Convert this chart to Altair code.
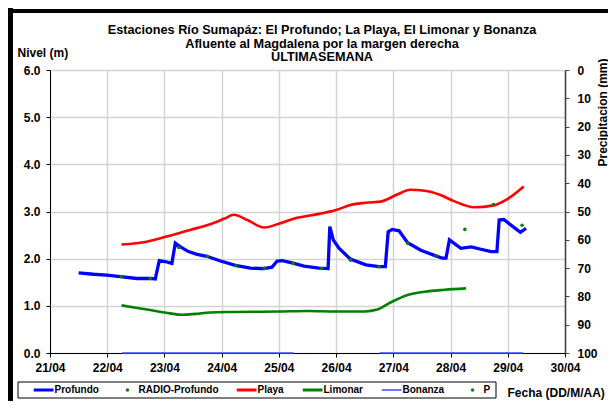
import altair as alt
import pandas as pd

BASE = pd.Timestamp("2014-04-21")

# ---- legend / series definitions
series = ["Profundo", "RADIO-Profundo", "Playa", "Limonar", "Bonanza", "P"]
series_colors = ["#0000ff", "#008000", "#ff0000", "#008000", "#3c46ff", "#008000"]
BAR = "M-1,-0.15L1,-0.15L1,0.15L-1,0.15Z"
THIN = "M-1,-0.07L1,-0.07L1,0.07L-1,0.07Z"
DOT = "M-0.18,0L-0.13,-0.13L0,-0.18L0.13,-0.13L0.18,0L0.13,0.13L0,0.18L-0.13,0.13Z"
series_shapes = [BAR, DOT, BAR, BAR, THIN, DOT]

title_lines = [
    "Estaciones Río Sumapáz: El Profundo; La Playa, El Limonar y Bonanza",
    "Afluente al Magdalena por la margen derecha",
    "ULTIMASEMANA",
]

# ---- data (day offsets from 21/04 00:00, level in m)
prof_day = [0.50, 0.76, 0.99, 1.23, 1.52, 1.74, 1.84, 1.91, 2.01, 2.13, 2.19, 2.28, 2.42,
            2.57, 2.74, 2.98, 3.24, 3.50, 3.74, 3.88, 3.97, 4.06, 4.23, 4.44, 4.70, 4.86,
            4.89, 4.95, 5.05, 5.25, 5.52, 5.75, 5.86, 5.91, 5.98, 6.10, 6.25, 6.48, 6.74,
            6.86, 6.92, 6.98, 7.18, 7.36, 7.53, 7.71, 7.81, 7.85, 7.93, 8.09, 8.22, 8.32]
prof_val = [1.70, 1.67, 1.65, 1.62, 1.58, 1.58, 1.57, 1.96, 1.94, 1.90, 2.33, 2.25, 2.15,
            2.09, 2.05, 1.95, 1.86, 1.80, 1.79, 1.82, 1.95, 1.96, 1.91, 1.84, 1.80, 1.79,
            2.68, 2.40, 2.22, 1.99, 1.87, 1.83, 1.83, 2.57, 2.62, 2.59, 2.34, 2.18, 2.06,
            2.01, 2.01, 2.40, 2.22, 2.25, 2.20, 2.15, 2.15, 2.82, 2.83, 2.68, 2.56, 2.64]

radio_day = [1.25, 1.75, 2.25, 2.75, 3.25, 3.75, 4.25, 4.75, 5.25, 5.75, 6.25, 6.75, 7.25, 7.75, 8.25]
radio_val = [1.62, 1.58, 2.24, 2.05, 1.85, 1.80, 1.90, 1.79, 1.97, 1.83, 2.33, 2.06, 2.62, 3.15, 2.71]

playa_day = [1.25, 1.69, 2.04, 2.45, 2.80, 3.05, 3.21, 3.45, 3.74, 4.00, 4.30, 4.70, 5.00,
             5.25, 5.55, 5.78, 6.05, 6.30, 6.55, 6.80, 7.06, 7.41, 7.75, 8.00, 8.28]
playa_val = [2.30, 2.36, 2.47, 2.61, 2.73, 2.85, 2.93, 2.82, 2.66, 2.74, 2.86, 2.95, 3.03,
             3.14, 3.19, 3.21, 3.35, 3.46, 3.44, 3.36, 3.22, 3.09, 3.13, 3.27, 3.53]

lim_day = [1.25, 1.75, 2.10, 2.30, 2.55, 2.80, 3.20, 4.00, 4.50, 5.00, 5.50, 5.72, 5.95,
           6.25, 6.55, 6.90, 7.27]
lim_val = [1.01, 0.91, 0.84, 0.81, 0.83, 0.86, 0.87, 0.88, 0.89, 0.88, 0.88, 0.92, 1.07,
           1.23, 1.30, 1.34, 1.37]

bon_day = [1.26, 4.26, 5.76, 8.27]
bon_val = [0.0, 0.0, 0.0, 0.0]
bon_seg = [1, 1, 2, 2]

p_day = []
p_mm = []


def to_time(days):
    return BASE + pd.to_timedelta(pd.Series(days, dtype="float64"), unit="D")


df_prof = pd.DataFrame({"t": to_time(prof_day), "v": prof_val})
df_radio = pd.DataFrame({"t": to_time(radio_day), "v": radio_val, "serie": "RADIO-Profundo"})
df_playa = pd.DataFrame({"t": to_time(playa_day), "v": playa_val})
df_lim = pd.DataFrame({"t": to_time(lim_day), "v": lim_val})
df_bon = pd.DataFrame({"t": to_time(bon_day), "v": bon_val, "seg": bon_seg})
df_p = pd.DataFrame({"t": to_time(p_day), "mm": pd.Series(p_mm, dtype="float64")})
one = pd.DataFrame({"k": [0]})

FONT = "Liberation Sans"

X = alt.X(
    "t:T",
    scale=alt.Scale(domain=[alt.DateTime(year=2014, month=4, date=21),
                            alt.DateTime(year=2014, month=4, date=30)]),
    axis=alt.Axis(
        values=[alt.DateTime(year=2014, month=4, date=d) for d in range(21, 31)],
        format="%d/%m", labelAngle=0, labelFlush=False, labelOverlap=False,
        tickSize=4, labelPadding=5, grid=True,
        title="Fecha (DD/M/AA)", titleX=457, titleY=39,
        titleAlign="left", titleBaseline="middle",
    ),
)

Y = alt.Y(
    "v:Q",
    scale=alt.Scale(domain=[0, 6]),
    axis=alt.Axis(
        orient="left", values=[0, 1, 2, 3, 4, 5, 6], format=".1f",
        tickSize=4, labelPadding=6, grid=True,
        title="Nivel (m)", titleAngle=0, titleX=-33, titleY=-18,
        titleAlign="left", titleBaseline="middle",
    ),
)

line_prof = alt.Chart(df_prof).mark_line(strokeWidth=3.3, color=series_colors[0]).encode(x=X, y=Y)
line_playa = alt.Chart(df_playa).mark_line(strokeWidth=2.6, interpolate="monotone",
                                           color=series_colors[2]).encode(x=X, y=Y)
line_lim = alt.Chart(df_lim).mark_line(strokeWidth=2.6, interpolate="monotone",
                                       color=series_colors[3]).encode(x=X, y=Y)
line_bon = alt.Chart(df_bon).mark_line(strokeWidth=1.5, color=series_colors[4]).encode(
    x=X, y=Y, detail="seg:N")

pts = alt.Chart(df_radio).mark_point(filled=True, size=400, strokeWidth=0, opacity=1).encode(
    x=X, y=Y,
    color=alt.Color("serie:N", scale=alt.Scale(domain=series, range=series_colors),
                    legend=alt.Legend(title=None)),
    shape=alt.Shape("serie:N", scale=alt.Scale(domain=series, range=series_shapes),
                    legend=alt.Legend(title=None)),
)

# outer frame of the figure (left and top edges visible)
frame_left = alt.Chart(one).mark_rule(color="black", strokeWidth=5).encode(
    x=alt.value(-39.5), y=alt.value(-62), y2=alt.value(400))
frame_top = alt.Chart(one).mark_rule(color="black", strokeWidth=4).encode(
    x=alt.value(-42), x2=alt.value(700), y=alt.value(-59))

# box around the legend
box_style = dict(color="black", strokeWidth=1)
box_top = alt.Chart(one).mark_rule(**box_style).encode(
    x=alt.value(-32), x2=alt.value(446), y=alt.value(312))
box_bottom = alt.Chart(one).mark_rule(**box_style).encode(
    x=alt.value(-32), x2=alt.value(446), y=alt.value(328))
box_left = alt.Chart(one).mark_rule(**box_style).encode(
    x=alt.value(-32), y=alt.value(312), y2=alt.value(328))
box_right = alt.Chart(one).mark_rule(**box_style).encode(
    x=alt.value(446), y=alt.value(312), y2=alt.value(328))

title_text = alt.Chart(one).mark_text(
    text=title_lines, font=FONT, fontSize=12.7, fontWeight="bold", color="black",
    align="center", baseline="alphabetic", lineHeight=13.5,
).encode(x=alt.value(272), y=alt.value(-36))

inner = alt.layer(frame_left, frame_top, box_top, box_bottom, box_left, box_right,
                  title_text, line_lim, line_playa, line_prof, line_bon, pts)

p_layer = alt.Chart(df_p).mark_point(filled=True, size=10, color="#008000").encode(
    x=X,
    y=alt.Y("mm:Q", scale=alt.Scale(domain=[0, 100], reverse=True),
            axis=alt.Axis(orient="right", values=list(range(0, 101, 10)), format="d",
                          tickSize=4, labelPadding=8, grid=False,
                          domainColor="#404040", tickColor="#404040", domainWidth=1.5,
                          title="Precipitacion (mm)", titleAngle=270, titleX=37, titleY=42,
                          titleAlign="center", titleBaseline="middle")),
)

chart = alt.layer(inner, p_layer).resolve_scale(y="independent").properties(
    width=515, height=283,
    padding={"left": 42, "top": 62, "right": 43, "bottom": 48},
    autosize=alt.AutoSizeParams(type="none"),
).configure(font=FONT).configure_view(strokeWidth=0).configure_axis(
    labelFont=FONT, labelFontSize=12, labelFontWeight="bold", labelColor="black",
    titleFont=FONT, titleFontSize=12, titleFontWeight="bold", titleColor="black",
    domainColor="black", tickColor="black", gridColor="#d4d4d4", gridWidth=1.5,
).configure_legend(
    orient="none", legendX=-16.5, legendY=315, direction="horizontal",
    padding=0, clipHeight=10,
    symbolSize=400, symbolStrokeWidth=0, symbolOffset=0, labelOffset=1,
    columnPadding=18,
    labelFont=FONT, labelFontSize=10, labelFontWeight="bold", labelColor="black",
)

chart.save("out.html", embed_options={"renderer": "svg", "actions": False})
